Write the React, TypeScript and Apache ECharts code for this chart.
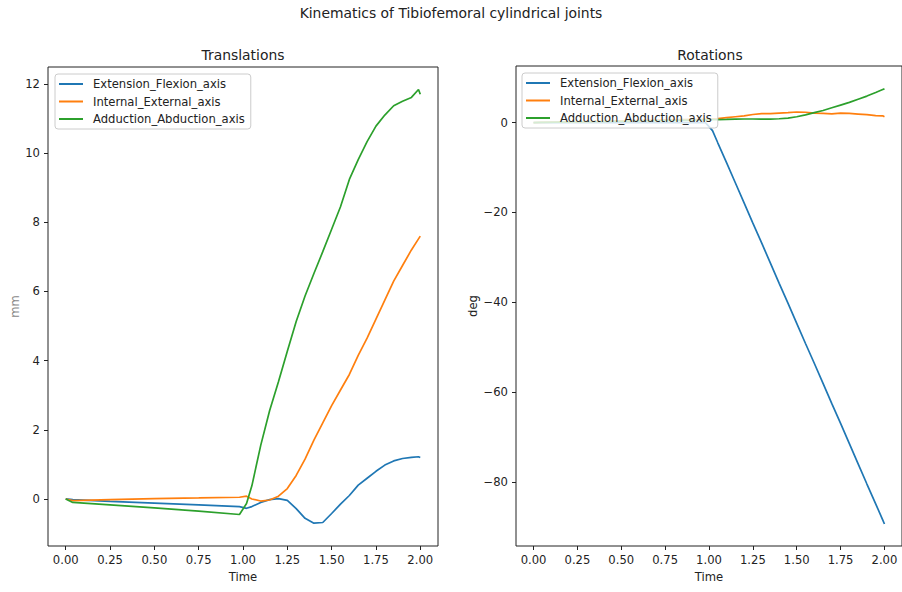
import React, { useEffect, useRef } from "react";
import * as echarts from "echarts";

const SERIES_NAMES = ["Extension_Flexion_axis", "Internal_External_axis", "Adduction_Abduction_axis"];
const COLORS = ["#1f77b4", "#ff7f0e", "#2ca02c"];

const TIME = [0, 0.04, 0.25, 0.5, 0.75, 0.98, 1.02, 1.05, 1.1, 1.15, 1.2, 1.25, 1.3, 1.35, 1.4, 1.45, 1.5, 1.55, 1.6, 1.65, 1.7, 1.75, 1.8, 1.85, 1.9, 1.95, 1.99, 2.0];

// Translations (mm)
const TRANS_EF = [0, -0.02, -0.07, -0.12, -0.17, -0.22, -0.27, -0.22, -0.1, -0.02, 0.01, -0.04, -0.28, -0.56, -0.7, -0.68, -0.42, -0.15, 0.1, 0.4, 0.6, 0.8, 0.98, 1.1, 1.17, 1.2, 1.22, 1.2];
const TRANS_IE = [0, -0.05, -0.02, 0.01, 0.03, 0.05, 0.08, 0.0, -0.06, -0.03, 0.08, 0.3, 0.68, 1.15, 1.7, 2.2, 2.7, 3.15, 3.6, 4.15, 4.65, 5.2, 5.75, 6.3, 6.75, 7.2, 7.52, 7.6];
const TRANS_AA = [0, -0.1, -0.17, -0.26, -0.35, -0.45, -0.13, 0.38, 1.55, 2.55, 3.39, 4.27, 5.13, 5.87, 6.52, 7.15, 7.8, 8.45, 9.24, 9.81, 10.33, 10.78, 11.1, 11.37, 11.5, 11.61, 11.84, 11.7];

// Rotations (deg)
const ROT_EF = [0, 0, 0, 0, 0, 0, -1.8, -4.5, -8.9, -13.4, -17.9, -22.4, -26.8, -31.3, -35.8, -40.2, -44.7, -49.2, -53.6, -58.1, -62.6, -67.0, -71.5, -76.0, -80.5, -84.9, -88.5, -89.4];
const ROT_IE = [0, 0.05, 0.2, 0.4, 0.6, 0.8, 0.85, 0.9, 1.1, 1.3, 1.5, 1.8, 2.0, 2.0, 2.1, 2.2, 2.35, 2.3, 2.1, 2.05, 1.95, 2.1, 2.05, 1.9, 1.75, 1.55, 1.5, 1.3];
const ROT_AA = [0, 0.05, 0.15, 0.3, 0.45, 0.6, 0.65, 0.67, 0.7, 0.75, 0.8, 0.8, 0.78, 0.78, 0.85, 1.0, 1.3, 1.7, 2.2, 2.7, 3.3, 3.9, 4.5, 5.2, 5.9, 6.7, 7.35, 7.5];

const X_TICKS = [0, 0.25, 0.5, 0.75, 1.0, 1.25, 1.5, 1.75, 2.0];
const Y_TICKS_TRANS = [0, 2, 4, 6, 8, 10, 12];
const Y_TICKS_ROT = [-80, -60, -40, -20, 0];

const FONT = "DejaVu Sans";
const TEXT_COLOR = "#222";

function pairs(vals: number[]) {
  return TIME.map((t, i) => [t, vals[i]]);
}

function fmtY(v: number) {
  return v < 0 ? "\u2212" + Math.abs(v) : String(v);
}

function xAxis(gridIndex: number) {
  return {
    type: "value",
    gridIndex,
    min: -0.1,
    max: 2.1,
    name: "Time",
    nameLocation: "middle",
    nameGap: 23,
    nameTextStyle: { fontFamily: FONT, fontSize: 11.6, color: TEXT_COLOR },
    splitLine: { show: false },
    axisLine: { show: false, onZero: false },
    axisTick: { show: true, length: 4, lineStyle: { color: TEXT_COLOR, width: 1 }, customValues: X_TICKS },
    axisLabel: {
      customValues: X_TICKS,
      margin: 8,
      fontFamily: FONT,
      fontSize: 11.6,
      color: TEXT_COLOR,
      hideOverlap: false,
      formatter: (v: number) => v.toFixed(2),
    },
  };
}

function yAxis(gridIndex: number, min: number, max: number, ticks: number[], name: string, gap: number, nameColor: string) {
  return {
    type: "value",
    gridIndex,
    min,
    max,
    name,
    nameLocation: "middle",
    nameGap: gap,
    nameRotate: 90,
    nameTextStyle: { fontFamily: FONT, fontSize: 11.6, color: nameColor },
    splitLine: { show: false },
    axisLine: { show: false, onZero: false },
    axisTick: { show: true, length: 4, lineStyle: { color: TEXT_COLOR, width: 1 }, customValues: ticks },
    axisLabel: {
      customValues: ticks,
      margin: 8,
      fontFamily: FONT,
      fontSize: 11.6,
      color: TEXT_COLOR,
      hideOverlap: false,
      formatter: fmtY,
    },
  };
}

function legend(left: number, top: number) {
  return {
    left,
    top,
    orient: "vertical",
    data: SERIES_NAMES,
    icon: "rect",
    itemWidth: 24,
    itemHeight: 2,
    itemGap: 3.5,
    padding: [3, 6, 3, 4],
    backgroundColor: "rgba(255,255,255,0.8)",
    borderColor: "#cccccc",
    borderWidth: 1,
    borderRadius: 3,
    selectedMode: false,
    textStyle: { fontFamily: FONT, fontSize: 11.6, color: TEXT_COLOR, lineHeight: 14, padding: [0, 0, 0, 5] },
  };
}

export default function App() {
  const ref = useRef<HTMLDivElement>(null);

  useEffect(() => {
    if (!ref.current) return;
    const chart = echarts.init(ref.current, null, { renderer: "svg" });
    const trans = [TRANS_EF, TRANS_IE, TRANS_AA];
    const rot = [ROT_EF, ROT_IE, ROT_AA];
    const series: any[] = [];
    trans.forEach((vals, i) => {
      series.push({
        name: SERIES_NAMES[i],
        type: "line",
        xAxisIndex: 0,
        yAxisIndex: 0,
        data: pairs(vals),
        symbol: "none",
        showSymbol: false,
        color: COLORS[i],
        lineStyle: { color: COLORS[i], width: 1.7 },
        z: 2,
      });
    });
    rot.forEach((vals, i) => {
      series.push({
        name: SERIES_NAMES[i],
        type: "line",
        xAxisIndex: 1,
        yAxisIndex: 1,
        data: pairs(vals),
        symbol: "none",
        showSymbol: false,
        color: COLORS[i],
        lineStyle: { color: COLORS[i], width: 1.7 },
        z: 2,
      });
    });

    chart.setOption({
      animation: false,
      backgroundColor: "#ffffff",
      textStyle: { fontFamily: FONT },
      grid: [
        { left: 48, top: 67, width: 390, height: 479, show: true, borderColor: TEXT_COLOR, borderWidth: 1, backgroundColor: "transparent" },
        { left: 516, top: 66, width: 389, height: 480, show: true, borderColor: TEXT_COLOR, borderWidth: 1, backgroundColor: "transparent" },
      ],
      xAxis: [xAxis(0), xAxis(1)],
      yAxis: [
        yAxis(0, -1.36, 12.49, Y_TICKS_TRANS, "mm", 27, "#888"),
        yAxis(1, -94.3, 12.6, Y_TICKS_ROT, "deg", 37, TEXT_COLOR),
      ],
      legend: [legend(55, 74), legend(522, 73)],
      graphic: [
        {
          type: "text",
          x: 451,
          y: 13,
          style: { text: "Kinematics of Tibiofemoral cylindrical joints", fontFamily: FONT, fontSize: 13.9, fill: TEXT_COLOR, align: "center", verticalAlign: "middle", textAlign: "center", textVerticalAlign: "middle" },
        },
        {
          type: "text",
          x: 243,
          y: 55,
          style: { text: "Translations", fontFamily: FONT, fontSize: 13.9, fill: TEXT_COLOR, align: "center", verticalAlign: "middle", textAlign: "center", textVerticalAlign: "middle" },
        },
        {
          type: "text",
          x: 710,
          y: 55,
          style: { text: "Rotations", fontFamily: FONT, fontSize: 13.9, fill: TEXT_COLOR, align: "center", verticalAlign: "middle", textAlign: "center", textVerticalAlign: "middle" },
        },
      ],
      series,
    });
    return () => chart.dispose();
  }, []);

  return (
    <div
      ref={ref}
      style={{ position: "absolute", left: 0, top: 0, width: 902, height: 592, background: "#fff" }}
    />
  );
}
